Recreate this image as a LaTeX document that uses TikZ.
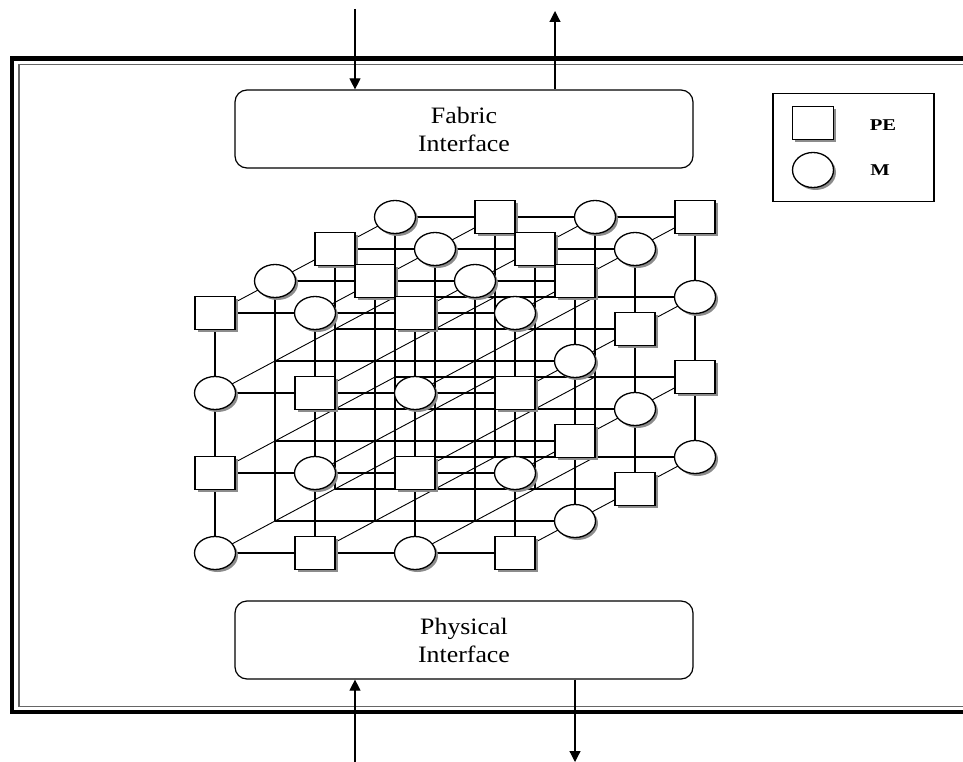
\documentclass[tikz,border=0pt]{standalone}
\usepackage{fontspec}
\setmainfont{Liberation Serif}
\newfontfamily\lblfont[FakeStretch=1.1]{Liberation Serif}
\newfontfamily\legfont[FakeStretch=1.25]{Liberation Serif}
\usetikzlibrary{shapes.geometric,shadows,arrows.meta}
\tikzset{
  nshadow/.style={drop shadow={shadow xshift=2.5pt,shadow yshift=-2.5pt,fill=black!45,opacity=1}},
  pe/.style={draw,line width=1.3,fill=white,rectangle,minimum width=40,minimum height=33,inner sep=0,nshadow},
  mem/.style={draw,line width=1.3,fill=white,ellipse,minimum width=41,minimum height=33,inner sep=0,nshadow},
  wire/.style={line width=1.3},
  depthwire/.style={line width=0.9},
  ibox/.style={draw,rounded corners=12,line width=1.2,minimum width=458,minimum height=78,align=center,font=\lblfont\fontsize{23.5}{28}\selectfont},
  sig/.style={line width=1.2,-{Triangle[length=11,width=11]}},
  legtext/.style={font=\legfont\bfseries\fontsize{16.5}{18}\selectfont,inner sep=0}
}
\newcommand\placenode[3]{%
  \pgfmathtruncatemacro\parity{mod(#1+#2+#3,2)}%
  \ifnum\parity=0
    \node[pe] (n-#1-#2-#3) at (p-#1-#2-#3) {};
  \else
    \node[mem] (n-#1-#2-#3) at (p-#1-#2-#3) {};
  \fi}
\begin{document}
\begin{tikzpicture}[x=1pt,y=-1pt]
\useasboundingbox (0,0) rectangle (963,762);
\clip (0,0) rectangle (963,762);
\fill[white] (0,0) rectangle (963,762);
% outer frame
\draw[line width=4.5] (12,58.5) rectangle (1000,712);
\draw[line width=1.8,black!60] (19,64.5) rectangle (1000,706.5);
% interfaces
\node[ibox] (fab) at (464,129) {Fabric\\Interface};
\node[ibox] (phy) at (464,640) {Physical\\Interface};
\coordinate (inA) at (355,9);
\coordinate (outA) at (555,11);
\coordinate (inB) at (355,765);
\coordinate (outB) at (575,762);
\draw[sig] (inA) -- (inA |- fab.north);
\draw[sig] (outA |- fab.north) -- (outA);
\draw[sig] (inB) -- (inB |- phy.south);
\draw[sig] (outB |- phy.south) -- (outB);
% legend
\node[draw,line width=1.2,minimum width=161,minimum height=108,inner sep=0] (leg) at (853.5,147.5) {};
\node[pe,minimum width=41,minimum height=33] (lpe) at (813,123) {};
\node[mem,minimum width=41,minimum height=35] (lm) at (813,170) {};
\node[legtext] (tpe) at (883,125) {PE};
\node[legtext] (tm) at (880,170) {M};
% lattice coordinates
\foreach \i in {0,...,3}{\foreach \j in {0,...,3}{\foreach \k in {0,...,3}{%
  \coordinate (p-\i-\j-\k) at ({215+100*\i+60*\k},{313+80*\j-32*\k});}}}
% lattice wires
\foreach \j in {0,...,3}{\foreach \k in {0,...,3}{\draw[wire] (p-0-\j-\k) -- (p-3-\j-\k);}}
\foreach \i in {0,...,3}{\foreach \k in {0,...,3}{\draw[wire] (p-\i-0-\k) -- (p-\i-3-\k);}}
\foreach \i in {0,...,3}{\foreach \j in {0,...,3}{\draw[depthwire] (p-\i-\j-0) -- (p-\i-\j-3);}}
% visible nodes
\foreach \k in {3,2,1}{%
  \foreach \i in {0,...,3}{\placenode{\i}{0}{\k}}
  \foreach \j in {1,2,3}{\placenode{3}{\j}{\k}}}
\foreach \j in {0,...,3}{\foreach \i in {0,...,3}{\placenode{\i}{\j}{0}}}
\end{tikzpicture}
\end{document}
